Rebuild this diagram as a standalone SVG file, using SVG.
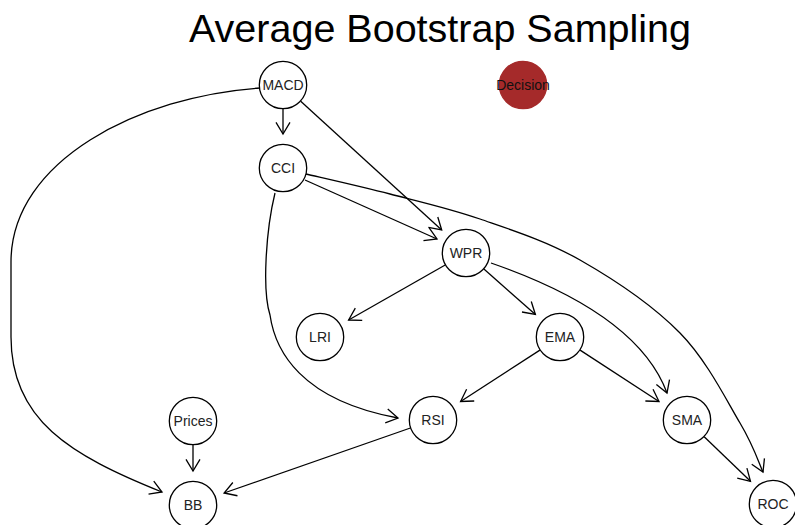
<svg xmlns="http://www.w3.org/2000/svg" width="795" height="525" viewBox="0 0 795 525">
<style>
.node circle{fill:#fff;stroke:#000;stroke-width:1.3}
.node text{font-family:"Liberation Sans",Arial,sans-serif;font-size:14px;fill:#222;text-anchor:middle;dominant-baseline:central}
.edges path,.edges line{fill:none;stroke:#000;stroke-width:1.3;marker-end:url(#arr)}
.title{font-family:"Liberation Sans",Arial,sans-serif;font-size:39.5px;fill:#000;text-anchor:middle}
</style>
<defs>
<marker id="arr" markerUnits="userSpaceOnUse" markerWidth="30" markerHeight="30" refX="0" refY="0" orient="auto" overflow="visible">
<path d="M-11.7,-7 L0,0 L-11.7,7" fill="none" stroke="#000" stroke-width="1.3"/>
</marker>
</defs>
<rect width="795" height="525" fill="#fff"/>
<text class="title" x="440" y="42">Average Bootstrap Sampling</text>
<g class="edges">
<line x1="283" y1="109" x2="283" y2="134"/>
<line x1="300.7" y1="101.2" x2="441.7" y2="230"/>
<path d="M260,88 C140,96 11,160 11,262 L11,337 C11,420 70,455 162,492"/>
<line x1="305" y1="180" x2="437" y2="239"/>
<path d="M306,174 C320,177.3 361,186.5 390,194 C419,201.5 448.3,208 480,219 C511.7,230 546.7,241 580,260 C613.3,279 653.3,305.8 680,333 C706.7,360.2 726.2,399.8 740,423 C753.8,446.2 759.2,463.8 763,472"/>
<path d="M275,193 C266,230 262,290 270,315 C275,350 300,400 398,418"/>
<line x1="445.2" y1="265" x2="348.6" y2="320"/>
<line x1="483.9" y1="269" x2="535.4" y2="314.5"/>
<path d="M491,263 C540,280 640,320 667,393"/>
<line x1="539.9" y1="350.1" x2="460.6" y2="401.5"/>
<line x1="580.1" y1="350.1" x2="659" y2="401.5"/>
<line x1="704.2" y1="436.8" x2="750.5" y2="481.3"/>
<line x1="410.4" y1="428" x2="224.1" y2="493"/>
<line x1="193" y1="445" x2="193" y2="471"/>
</g>
<g id="MACD" class="node"><circle cx="283" cy="85" r="23.7"/><text x="283" y="85">MACD</text></g>
<g id="Decision" class="node"><circle cx="523" cy="85" r="23.7" style="fill:#A52A2A;stroke:#A52A2A"/><text x="523" y="85" style="fill:#111">Decision</text></g>
<g id="CCI" class="node"><circle cx="283" cy="168" r="23.7"/><text x="283" y="168">CCI</text></g>
<g id="WPR" class="node"><circle cx="466" cy="253" r="23.7"/><text x="466" y="253">WPR</text></g>
<g id="LRI" class="node"><circle cx="320" cy="337" r="23.7"/><text x="320" y="337">LRI</text></g>
<g id="EMA" class="node"><circle cx="560" cy="337" r="23.7"/><text x="560" y="337">EMA</text></g>
<g id="Prices" class="node"><circle cx="193" cy="421" r="23.7"/><text x="193" y="421">Prices</text></g>
<g id="RSI" class="node"><circle cx="433" cy="420" r="23.7"/><text x="433" y="420">RSI</text></g>
<g id="SMA" class="node"><circle cx="687" cy="420" r="23.7"/><text x="687" y="420">SMA</text></g>
<g id="BB" class="node"><circle cx="193" cy="505" r="23.7"/><text x="193" y="505">BB</text></g>
<g id="ROC" class="node"><circle cx="773" cy="504" r="23.7"/><text x="773" y="504">ROC</text></g>
</svg>
